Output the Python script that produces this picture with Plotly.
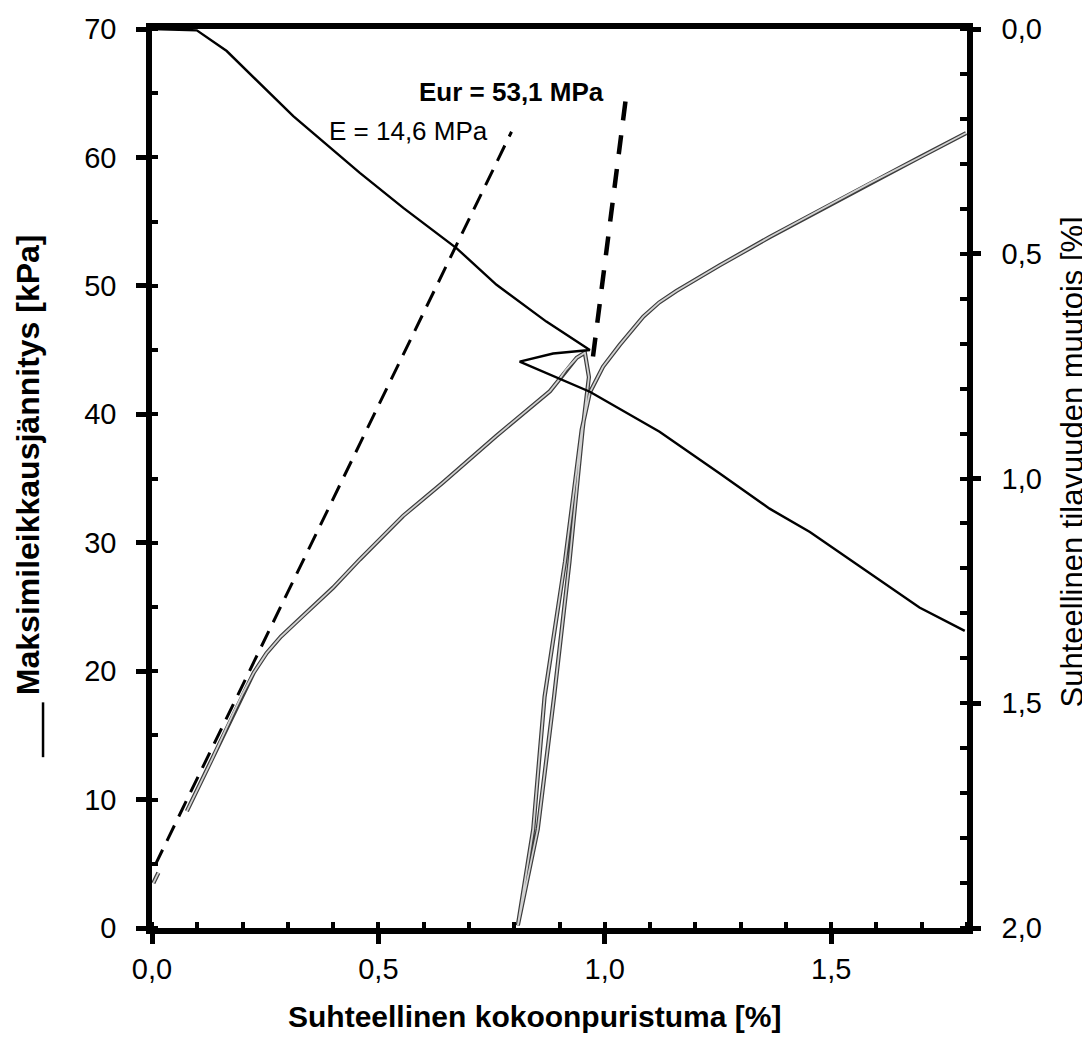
import plotly.graph_objects as go

# --- data ---
# Maximum shear stress [kPa] vs relative compression [%] (gray double line, left axis)
strain_stress = [0.003, 0.014, None, 0.077, 0.132, 0.179, 0.201, 0.225, 0.253, 0.285, 0.327,
                 0.400, 0.459, 0.555, 0.643, 0.760, 0.879, 0.897, 0.915, 0.938, 0.956,
                 0.965, 0.951, 0.922, 0.888, 0.852, 0.808,
                 0.842, 0.867, 0.912, 0.949, 0.967, 0.996, 1.033, 1.085, 1.120, 1.158,
                 1.200, 1.254, 1.364, 1.475, 1.585, 1.695, 1.798]
stress = [3.5, 4.3, None, 9.1, 13.1, 16.7, 18.3, 19.9, 21.4, 22.7, 24.1,
          26.5, 28.7, 32.1, 34.7, 38.3, 41.8, 42.6, 43.5, 44.4, 44.8,
          42.9, 38.8, 28.5, 18.0, 7.7, 0.2,
          7.7, 18.0, 28.5, 38.8, 41.7, 43.7, 45.4, 47.6, 48.7, 49.6,
          50.5, 51.6, 53.8, 55.9, 58.0, 60.0, 61.9]

# Relative volume change [%] (black line, right axis, reversed)
vol_strain = [0.0, 0.099, 0.165, 0.312, 0.459, 0.555, 0.673, 0.761, 0.871, 0.967, 0.886,
              0.812, 0.967, 1.121, 1.254, 1.364, 1.453, 1.534, 1.614, 1.695, 1.795]
vol_change = [0.0, 0.003, 0.049, 0.194, 0.320, 0.398, 0.488, 0.569, 0.651, 0.714, 0.722,
              0.740, 0.807, 0.896, 0.989, 1.067, 1.119, 1.175, 1.231, 1.287, 1.339]

# Tangent modulus lines
e_x = [0.007, 0.794]
e_y = [4.9, 62.0]
eur_x = [0.974, 1.048]
eur_y = [44.5, 65.0]

x_ticks = [0.0, 0.5, 1.0, 1.5]
y_ticks = [0, 10, 20, 30, 40, 50, 60, 70]
y2_ticks = [0.0, 0.5, 1.0, 1.5, 2.0]

FONT = "Liberation Sans, Arial, sans-serif"

fig = go.Figure()

# gray double line: dark outline + light core
fig.add_trace(go.Scatter(x=strain_stress, y=stress, mode="lines", connectgaps=False,
                         line=dict(color="#3c3c3c", width=4.2), hoverinfo="skip"))
fig.add_trace(go.Scatter(x=strain_stress, y=stress, mode="lines", connectgaps=False,
                         line=dict(color="#d2d2d2", width=1.8), hoverinfo="skip"))
# volume change
fig.add_trace(go.Scatter(x=vol_strain, y=vol_change, mode="lines", yaxis="y2",
                         line=dict(color="black", width=2.4)))
# E line
fig.add_trace(go.Scatter(x=e_x, y=e_y, mode="lines",
                         line=dict(color="black", width=3, dash="17px,10px")))
# Eur line
fig.add_trace(go.Scatter(x=eur_x, y=eur_y, mode="lines",
                         line=dict(color="black", width=4.5, dash="19px,15px")))

tickfont = dict(family=FONT, size=29, color="black")

# The page body has an 8px margin, so the figure is 8px smaller and the
# left/top margins 8px smaller to land the plot area where the reference has it.
fig.update_layout(
    width=1082, height=1029,
    margin=dict(l=144, r=123, t=21, b=109),
    paper_bgcolor="white", plot_bgcolor="white",
    showlegend=False,
    separators=", ",
    font=dict(family=FONT, color="black"),
    xaxis=dict(range=[0, 1.8], tickvals=x_ticks, tickformat=".1f", automargin=False,
               ticks="outside", ticklen=10, tickwidth=4.5, tickcolor="black",
               minor=dict(dtick=0.1, ticks="inside", ticklen=6, tickwidth=3.5, tickcolor="black"),
               showline=True, linewidth=5.5, linecolor="black", mirror=True,
               showgrid=False, zeroline=False, tickfont=tickfont, ticklabelstandoff=0),
    yaxis=dict(range=[0, 70], tickvals=y_ticks, automargin=False,
               ticks="outside", ticklen=10, tickwidth=4.5, tickcolor="black",
               minor=dict(dtick=5, ticks="inside", ticklen=6, tickwidth=3.5, tickcolor="black"),
               showline=True, linewidth=5.5, linecolor="black",
               showgrid=False, zeroline=False, tickfont=tickfont, ticklabelstandoff=14),
    yaxis2=dict(range=[2.0, 0.0], tickvals=y2_ticks, tickformat=".1f", automargin=False,
                overlaying="y", side="right", anchor="x",
                ticks="outside", ticklen=8, tickwidth=4.5, tickcolor="black",
                minor=dict(dtick=0.1, ticks="inside", ticklen=7, tickwidth=3.5, tickcolor="black"),
                showline=True, linewidth=5.5, linecolor="black",
                showgrid=False, zeroline=False, tickfont=tickfont, ticklabelstandoff=15),
    # overlay axes to draw the inner half of the crossing major ticks
    xaxis2=dict(range=[0, 1.8], tickvals=x_ticks, overlaying="x", anchor="y", side="bottom",
                ticks="inside", ticklen=7, tickwidth=4.5, tickcolor="black", automargin=False,
                showticklabels=False, showline=False, showgrid=False, zeroline=False),
    yaxis3=dict(range=[0, 70], tickvals=y_ticks, overlaying="y", anchor="x", side="left",
                ticks="inside", ticklen=7, tickwidth=4.5, tickcolor="black", automargin=False,
                showticklabels=False, showline=False, showgrid=False, zeroline=False),
    yaxis4=dict(range=[2.0, 0.0], tickvals=y2_ticks, overlaying="y", anchor="x", side="right",
                ticks="inside", ticklen=7, tickwidth=4.5, tickcolor="black", automargin=False,
                showticklabels=False, showline=False, showgrid=False, zeroline=False),
)

annotations = [
    dict(text="Suhteellinen kokoonpuristuma [%]", xref="paper", yref="paper",
         x=0.469, y=-0.0984, showarrow=False, xanchor="center", yanchor="middle",
         font=dict(family=FONT, size=30, color="black", weight="bold")),
    dict(text="Maksimileikkausjännitys [kPa]", xref="paper", yref="paper",
         x=-0.152, y=0.515, textangle=-90, showarrow=False, xanchor="center", yanchor="middle",
         font=dict(family=FONT, size=32, color="black", weight="bold")),
    dict(text="Suhteellinen tilavuuden muutois [%]", xref="paper", yref="paper",
         x=1.129, y=0.518, textangle=-90, showarrow=False, xanchor="center", yanchor="middle",
         font=dict(family=FONT, size=31, color="black")),
    dict(text="Eur = 53,1 MPa", xref="x", yref="y", x=0.7936, y=65.1, showarrow=False,
         xanchor="center", yanchor="middle",
         font=dict(family=FONT, size=26, color="black", weight="bold")),
    dict(text="E = 14,6 MPa", xref="x", yref="y", x=0.567, y=62.07, showarrow=False,
         xanchor="center", yanchor="middle",
         font=dict(family=FONT, size=26, color="black")),
]
fig.update_layout(annotations=annotations)

fig.add_shape(type="line", xref="paper", yref="paper", x0=-0.1337, x1=-0.1337,
              y0=0.190, y1=0.251, line=dict(color="black", width=2.5))
fig.add_shape(type="line", xref="paper", yref="paper", x0=1.146, x1=1.146,
              y0=0.146, y1=0.226, line=dict(color="black", width=2.5))

fig.write_html("out.html")
